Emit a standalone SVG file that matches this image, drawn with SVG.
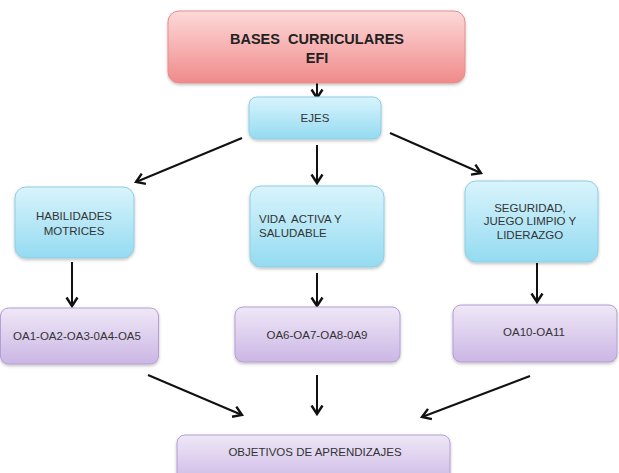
<svg xmlns="http://www.w3.org/2000/svg" width="619" height="473" viewBox="0 0 619 473">
<defs>
<linearGradient id="gPink" x1="0" y1="0" x2="0" y2="1"><stop offset="0" stop-color="#fdd9d9"/><stop offset="1" stop-color="#f08a8a"/></linearGradient>
<linearGradient id="gBlue" x1="0" y1="0" x2="0" y2="1"><stop offset="0" stop-color="#d9f4fc"/><stop offset="1" stop-color="#94dbf1"/></linearGradient>
<linearGradient id="gPurple" x1="0" y1="0" x2="0" y2="1"><stop offset="0" stop-color="#efe8f7"/><stop offset="1" stop-color="#cbb6e5"/></linearGradient>
<filter id="sh" x="-10%" y="-10%" width="120%" height="130%"><feDropShadow dx="0" dy="1.5" stdDeviation="1.5" flood-color="#000" flood-opacity="0.25"/></filter>
<marker id="arr" markerUnits="userSpaceOnUse" markerWidth="14" markerHeight="14" viewBox="0 0 14 14" refX="11" refY="7" orient="auto">
<path d="M2.5,1.5 L11,7 L2.5,12.5" fill="none" stroke="#111" stroke-width="2.4"/>
</marker>
</defs>
<style>
.pink{fill:url(#gPink);stroke:#e58d8d;stroke-width:1;filter:url(#sh)}
.blue{fill:url(#gBlue);stroke:#8fcde2;stroke-width:1;filter:url(#sh)}
.purple{fill:url(#gPurple);stroke:#b49ed2;stroke-width:1;filter:url(#sh)}
text{font-family:"Liberation Sans",Arial,sans-serif;fill:#333;font-size:11.5px}
.title{font-weight:bold;font-size:14.5px;fill:#222}
.c{text-anchor:middle}
.con line{stroke:#111;stroke-width:2;marker-end:url(#arr)}
</style>
<g class="con" id="connectors">
<line x1="317" y1="83" x2="317" y2="98"/>
<line x1="242" y1="138" x2="136" y2="182"/>
<line x1="317" y1="145" x2="317" y2="183"/>
<line x1="390" y1="133" x2="481" y2="173"/>
<line x1="72" y1="262" x2="72" y2="306"/>
<line x1="317" y1="273" x2="317" y2="306"/>
<line x1="537" y1="263" x2="537" y2="302"/>
<line x1="148" y1="375" x2="242" y2="415"/>
<line x1="317" y1="375" x2="317" y2="414"/>
<line x1="530" y1="376" x2="422" y2="417"/>
</g>
<g id="bases">
<rect class="pink" x="168" y="11" width="297" height="72" rx="11"/>
<text class="title c" x="317" y="44" word-spacing="4">BASES CURRICULARES</text>
<text class="title c" x="317" y="63">EFI</text>
</g>
<g id="ejes">
<rect class="blue" x="249" y="97" width="132" height="42" rx="8"/>
<text class="c" x="315" y="122">EJES</text>
</g>
<g id="habilidades">
<rect class="blue" x="15" y="187" width="119" height="71" rx="11"/>
<text class="c" x="74" y="220">HABILIDADES</text>
<text class="c" x="74" y="235">MOTRICES</text>
</g>
<g id="vida">
<rect class="blue" x="250" y="186" width="134" height="81" rx="11"/>
<text x="259" y="223" xml:space="preserve">VIDA  ACTIVA Y</text>
<text x="259" y="237">SALUDABLE</text>
</g>
<g id="seguridad">
<rect class="blue" x="465" y="181" width="133" height="81" rx="11"/>
<text class="c" x="530" y="212">SEGURIDAD,</text>
<text class="c" x="530" y="225">JUEGO LIMPIO Y</text>
<text class="c" x="530" y="239">LIDERAZGO</text>
</g>
<g id="oa1">
<rect class="purple" x="0.5" y="308" width="158" height="56" rx="8"/>
<text class="c" x="77" y="340">OA1-OA2-OA3-0A4-OA5</text>
</g>
<g id="oa6">
<rect class="purple" x="235" y="307" width="165" height="55" rx="8"/>
<text class="c" x="317" y="339">OA6-OA7-OA8-0A9</text>
</g>
<g id="oa10">
<rect class="purple" x="453" y="305" width="164" height="57" rx="8"/>
<text class="c" x="534" y="336">OA10-OA11</text>
</g>
<g id="objetivos">
<rect class="purple" x="177" y="435" width="273" height="50" rx="8"/>
<text class="c" x="315" y="456">OBJETIVOS DE APRENDIZAJES</text>
</g>
</svg>
